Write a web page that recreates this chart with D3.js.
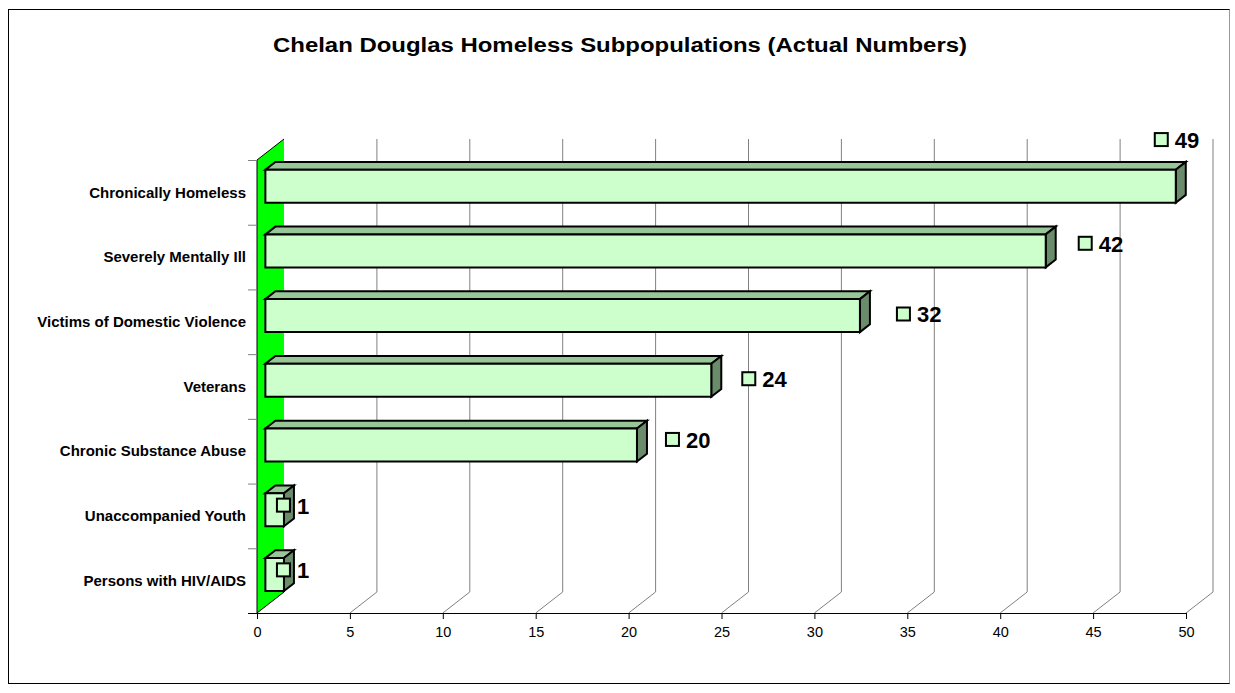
<!DOCTYPE html>
<html>
<head>
<meta charset="utf-8">
<script src="https://cdn.jsdelivr.net/npm/d3@7/dist/d3.min.js"></script>
<style>
  html, body { margin: 0; padding: 0; background: #fff; }
  svg { display: block; }
  text { font-family: "Liberation Sans", Arial, sans-serif; }
</style>
</head>
<body>
<svg id="chart" width="1235" height="693"></svg>
<script>
// ---- data ----
const title = "Chelan Douglas Homeless Subpopulations (Actual Numbers)";
const categories = [
  "Chronically Homeless",
  "Severely Mentally Ill",
  "Victims of Domestic Violence",
  "Veterans",
  "Chronic Substance Abuse",
  "Unaccompanied Youth",
  "Persons with HIV/AIDS"
];
const values = [49, 42, 32, 24, 20, 1, 1];
const xTicks = [0, 5, 10, 15, 20, 25, 30, 35, 40, 45, 50];

// ---- layout ----
const W = 1235, H = 693;
const svg = d3.select("#chart");
const DX = 27, DY = 21;          // depth vector of the 3D box
const D0 = 0.31, D1 = 0.68;      // bar depth range (fraction of depth)
const x = d3.scaleLinear().domain([0, 50]).range([257, 1186]);
const y = d3.scaleBand().domain(categories).range([160, 613]).padding(0);
const bw = y.bandwidth();
const P = (v, yy, d) => [x(v) + d * DX, yy - d * DY];
// label nudges (pixels, relative to back end of bar / back-face center)
const labelNudge = [[-31, -38], [23, 1], [27, 7], [21, 7], [19, 3], [-17, 4], [-17, 4]];

// frame
svg.append("rect").attr("x", 8.5).attr("y", 9.5).attr("width", 1221).attr("height", 674)
  .attr("fill", "#fff").attr("stroke", "#000").attr("stroke-width", 1);
svg.append("line").attr("x1", 1229.5).attr("x2", 1229.5).attr("y1", 9.5).attr("y2", 683.5)
  .attr("stroke", "#999");

// title
svg.append("text").attr("x", 620).attr("y", 52).attr("text-anchor", "middle")
  .attr("font-size", 20).attr("font-weight", "bold")
  .attr("textLength", 694).attr("lengthAdjust", "spacingAndGlyphs")
  .text(title);

const y0 = y.range()[0], y1 = y.range()[1];

// side wall (green)
const wall = [P(0, y1, 0), P(0, y1, 1), P(0, y0, 1), P(0, y0, 0)];
svg.append("polygon").attr("points", wall.map(p => p.join(",")).join(" "))
  .attr("fill", "#00ff00").attr("stroke", "none");
svg.append("polyline")
  .attr("points", [P(0, y1, 1), P(0, y1, 0), P(0, y0, 0), P(0, y0, 1)].map(p => p.join(",")).join(" "))
  .attr("fill", "none").attr("stroke", "#000").attr("stroke-width", 1);

// gridlines: back wall vertical + floor diagonal
const grid = svg.append("g").attr("stroke", "#808080").attr("stroke-width", 1).attr("fill", "none");
xTicks.filter(t => t > 0).forEach(t => {
  const a = P(t, y1, 0), b = P(t, y1, 1), c = P(t, y0, 1);
  grid.append("polyline").attr("points", [a, b, c].map(p => p.join(",")).join(" "));
});

// front x axis
const axis = svg.append("g").attr("transform", `translate(0,${y1})`)
  .call(d3.axisBottom(x).tickValues(xTicks).tickSize(6).tickSizeOuter(0).tickPadding(8).tickFormat(d3.format("d")));
axis.select(".domain").attr("stroke", "#000");
axis.selectAll(".tick line").attr("stroke", "#000");
axis.selectAll(".tick text").attr("font-size", 14.5).attr("fill", "#000")
  .style("font-family", '"Liberation Sans", Arial, sans-serif');
svg.append("line").attr("x1", 248).attr("x2", x(0)).attr("y1", y1 + 0.5).attr("y2", y1 + 0.5).attr("stroke", "#000");

// left category ticks
categories.forEach(c => {
  svg.append("line").attr("x1", 248).attr("x2", x(0)).attr("y1", y(c) + 0.5).attr("y2", y(c) + 0.5)
    .attr("stroke", "#808080");
});

// category labels
svg.append("g").selectAll("text").data(categories).join("text")
  .attr("x", 246).attr("y", c => y(c) + bw / 2).attr("dy", "0.35em")
  .attr("text-anchor", "end").attr("font-size", 15).attr("font-weight", "bold").attr("fill", "#000")
  .text(c => c);

// bars
const bars = svg.append("g").attr("stroke", "#000").attr("stroke-width", 2).attr("stroke-linejoin", "miter");
const pts = arr => arr.map(p => p.join(",")).join(" ");
categories.forEach((c, i) => {
  const v = values[i];
  const yt = y(c) + 0.25 * bw, yb = y(c) + 0.76 * bw;
  // top face
  bars.append("polygon").attr("fill", "#99c699")
    .attr("points", pts([P(0, yt, D0), P(v, yt, D0), P(v, yt, D1), P(0, yt, D1)]));
  // side face
  bars.append("polygon").attr("fill", "#6b8c6b")
    .attr("points", pts([P(v, yt, D0), P(v, yt, D1), P(v, yb, D1), P(v, yb, D0)]));
  // front face
  bars.append("polygon").attr("fill", "#ccffcc")
    .attr("points", pts([P(0, yt, D0), P(v, yt, D0), P(v, yb, D0), P(0, yb, D0)]));
});

// data labels
const labels = svg.append("g");
categories.forEach((c, i) => {
  const v = values[i];
  const back = P(v, y(c) + bw / 2, D1);
  const lx = back[0] + labelNudge[i][0], ly = back[1] + labelNudge[i][1];
  labels.append("rect").attr("x", lx).attr("y", ly - 7).attr("width", 13).attr("height", 13)
    .attr("fill", "#ccffcc").attr("stroke", "#000").attr("stroke-width", 2);
  labels.append("text").attr("x", lx + 20).attr("y", ly).attr("dy", "0.36em")
    .attr("font-size", 22).attr("font-weight", "bold").attr("fill", "#000").text(v);
});
</script>
</body>
</html>
